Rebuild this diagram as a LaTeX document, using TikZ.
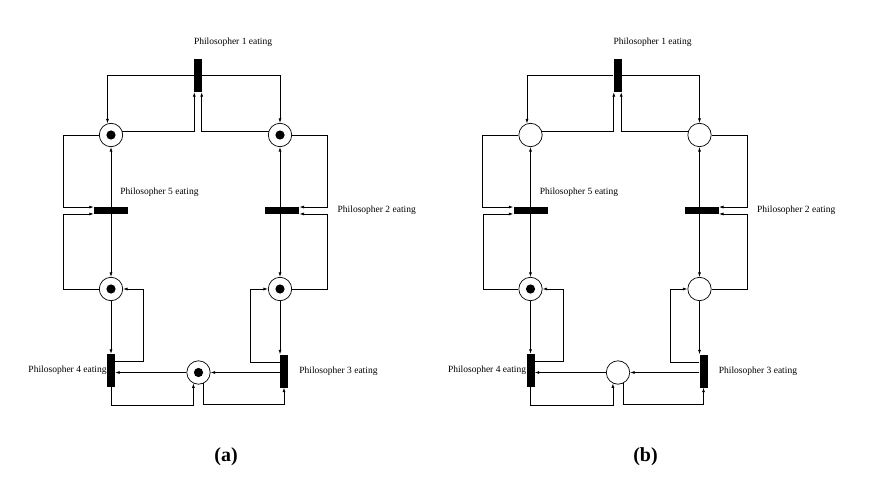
\documentclass[tikz,border=0pt]{standalone}
\usepackage{fontspec}
\setmainfont{Liberation Serif}
\usepackage{tikz}
\usetikzlibrary{arrows.meta, positioning}

\tikzset{
  place/.style={circle, draw, line width=0.7pt, minimum size=23.4pt, inner sep=0pt},
  vbar/.style={rectangle, fill=black, minimum width=8pt, minimum height=33pt, inner sep=0pt},
  hbar/.style={rectangle, fill=black, minimum width=34pt, minimum height=7.5pt, inner sep=0pt},
  flow/.style={line width=0.7pt, -{Latex[length=4.5pt, width=3pt]}},
  lab/.style={inner sep=0pt, font=\fontsize{9.5}{11}\selectfont},
  captext/.style={inner sep=0pt, font=\fontsize{20}{22}\selectfont\bfseries}
}

\begin{document}
\begin{tikzpicture}[x=1pt, y=-1pt]
  \useasboundingbox (0,0) rectangle (875,484);

  \foreach \p/\dx in {a/0, b/419.5} {
  \begin{scope}[xshift=\dx pt]
    % Gabeln (Stellen)
    \node[place] (P1\p) at (111,135) {};
    \node[place] (P2\p) at (280,135) {};
    \node[place] (P5\p) at (111,289) {};
    \node[place] (P3\p) at (280,289) {};
    \node[place] (P4\p) at (198.5,372.5) {};

    % Transitionen
    \node[vbar] (T1\p) at (198,75.5) {};
    \node[hbar] (T5\p) at (111,210.5) {};
    \node[hbar] (T2\p) at (282.3,210.5) {};
    \node[vbar] (T4\p) at (111,370.5) {};
    \node[vbar] (T3\p) at (284,371) {};

    % Beschriftungen
    \node[lab, above right=12pt and 0pt of T1\p.north west] (L1\p) {Philosopher 1 eating};
    \node[lab, above right=9.5pt and -8pt of T5\p.north east] (L5\p) {Philosopher 5 eating};
    \node[lab, right=38pt of T2\p] (L2\p) {Philosopher 2 eating};
    \node[lab, right=11pt of T3\p] (L3\p) {Philosopher 3 eating};
    \node[lab, left=0pt of T4\p] (L4\p) {Philosopher 4 eating};

    % Philosoph 1
    \draw[flow] (T1\p.west) -| (P1\p.107);
    \draw[flow] (T1\p.east) -| (P2\p.north);
    \draw[flow] (P1\p.20) -| ([xshift=0.5pt]T1\p.south west);
    \draw[flow] (P2\p.160) -| ([xshift=-0.5pt]T1\p.south east);

    % Philosoph 5
    \draw[flow] (P1\p.west) -- ++(-35.8,0) |- ([yshift=-0.5pt]T5\p.north west);
    \draw[flow] (P5\p.west) -- ++(-35.3,0) |- ([yshift=0.5pt]T5\p.south west);
    \draw[flow] (T5\p) -- (P1\p);
    \draw[flow] (T5\p) -- (P5\p);

    % Philosoph 2
    \draw[flow] (T2\p.north -| P2\p) -- (P2\p);
    \draw[flow] (T2\p.south -| P3\p) -- (P3\p);
    \draw[flow] (P2\p.east) -- ++(35.3,0) |- ([yshift=-0.5pt]T2\p.north east);
    \draw[flow] (P3\p.east) -- ++(35.3,0) |- ([yshift=0.5pt]T2\p.south east);

    % Philosoph 4
    \draw[flow] (P5\p) -- (T4\p);
    \draw[flow] ([yshift=-8pt]T4\p.north east) -- ++(28.5,0) |- (P5\p.east);
    \draw[flow] (P4\p) -- (P4\p -| T4\p.east);
    \draw[flow] (T4\p.south) -- ++(0,18) -| (P4\p.245);

    % Philosoph 3
    \draw[flow] (P3\p) -- (P3\p |- T3\p.north);
    \draw[flow] ([yshift=-8pt]T3\p.north west) -- ++(-29,0) |- (P3\p.west);
    \draw[flow] (T3\p.west |- P4\p) -- (P4\p);
    \draw[flow] (P4\p.295) |- ([yshift=-17pt]T3\p.south) -- (T3\p.south);

    % Unterschrift
    \node[captext] (cap\p) at (226,457) {(\p)};
  \end{scope}
  }

  % Marken
  \foreach \n in {P1a, P2a, P3a, P4a, P5a, P5b}
    \fill (\n) circle (4.6pt);
\end{tikzpicture}
\end{document}
